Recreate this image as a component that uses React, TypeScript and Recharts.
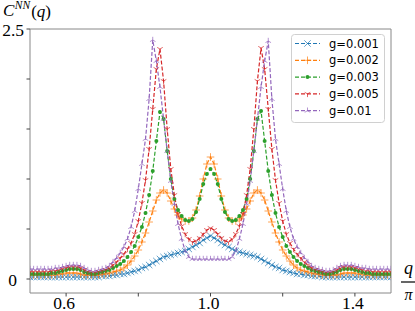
import { LineChart, Line, XAxis, YAxis, ReferenceLine, Legend } from "recharts";

// q / pi sampled on a 0.01 grid from 0.5 to 1.5
const qGrid = Array.from({ length: 101 }, (_, i) => Math.round((0.5 + i * 0.01) * 100) / 100);

const g001 = [
  0.02, 0.02, 0.02, 0.02, 0.02, 0.02, 0.02, 0.02, 0.02, 0.02,
  0.02, 0.02, 0.02, 0.02, 0.02, 0.02, 0.02, 0.02, 0.02, 0.02,
  0.03, 0.03, 0.03, 0.04, 0.04, 0.05, 0.05, 0.06, 0.07, 0.08,
  0.09, 0.11, 0.12, 0.14, 0.16, 0.18, 0.2, 0.22, 0.23, 0.24,
  0.25, 0.26, 0.27, 0.28, 0.3, 0.32, 0.34, 0.36, 0.39, 0.41,
  0.43,
  0.41, 0.39, 0.36, 0.34, 0.32, 0.3, 0.28, 0.27, 0.26, 0.25,
  0.24, 0.23, 0.22, 0.2, 0.18, 0.16, 0.14, 0.12, 0.11, 0.09,
  0.08, 0.07, 0.06, 0.05, 0.05, 0.04, 0.04, 0.03, 0.03, 0.03,
  0.02, 0.02, 0.02, 0.02, 0.02, 0.02, 0.02, 0.02, 0.02, 0.02,
  0.02, 0.02, 0.02, 0.02, 0.02, 0.02, 0.02, 0.02, 0.02, 0.02,
];

const g002 = [
  0.04, 0.04, 0.04, 0.04, 0.04, 0.04, 0.04, 0.04, 0.05, 0.05,
  0.06, 0.06, 0.06, 0.06, 0.05, 0.04, 0.04, 0.04, 0.04, 0.04,
  0.05, 0.05, 0.06, 0.07, 0.08, 0.09, 0.11, 0.14, 0.18, 0.23,
  0.29, 0.37, 0.46, 0.57, 0.68, 0.79, 0.86, 0.89, 0.86, 0.78,
  0.7, 0.64, 0.6, 0.58, 0.58, 0.61, 0.69, 0.83, 1.0, 1.15,
  1.22,
  1.15, 1.0, 0.83, 0.69, 0.61, 0.58, 0.58, 0.6, 0.64, 0.7,
  0.78, 0.86, 0.89, 0.86, 0.79, 0.68, 0.57, 0.46, 0.37, 0.29,
  0.23, 0.18, 0.14, 0.11, 0.09, 0.08, 0.07, 0.06, 0.05, 0.05,
  0.04, 0.04, 0.04, 0.04, 0.04, 0.05, 0.06, 0.06, 0.06, 0.06,
  0.05, 0.05, 0.04, 0.04, 0.04, 0.04, 0.04, 0.04, 0.04, 0.04,
];

const g003 = [
  0.05, 0.05, 0.05, 0.05, 0.05, 0.05, 0.06, 0.06, 0.07, 0.08,
  0.09, 0.1, 0.1, 0.1, 0.09, 0.07, 0.06, 0.05, 0.05, 0.06,
  0.07, 0.08, 0.09, 0.11, 0.13, 0.15, 0.18, 0.22, 0.27, 0.33,
  0.42, 0.52, 0.66, 0.84, 1.08, 1.38, 1.67, 1.6, 1.28, 1.0,
  0.8, 0.69, 0.63, 0.59, 0.58, 0.6, 0.67, 0.8, 0.95, 1.05,
  1.1,
  1.05, 0.95, 0.8, 0.67, 0.6, 0.58, 0.59, 0.63, 0.69, 0.8,
  1.0, 1.28, 1.6, 1.68, 1.38, 1.08, 0.84, 0.66, 0.52, 0.42,
  0.33, 0.27, 0.22, 0.18, 0.15, 0.13, 0.11, 0.09, 0.08, 0.07,
  0.06, 0.05, 0.05, 0.06, 0.07, 0.09, 0.1, 0.1, 0.1, 0.09,
  0.08, 0.07, 0.06, 0.06, 0.05, 0.05, 0.05, 0.05, 0.05, 0.05,
];

const g005 = [
  0.07, 0.07, 0.07, 0.07, 0.07, 0.07, 0.08, 0.08, 0.09, 0.1,
  0.11, 0.12, 0.12, 0.12, 0.11, 0.09, 0.07, 0.06, 0.06, 0.07,
  0.08, 0.09, 0.11, 0.14, 0.17, 0.21, 0.25, 0.3, 0.36, 0.45,
  0.58, 0.76, 0.99, 1.3, 1.7, 2.1, 2.3, 1.98, 1.5, 1.1,
  0.84, 0.65, 0.53, 0.45, 0.4, 0.37, 0.38, 0.41, 0.45, 0.49,
  0.51,
  0.49, 0.45, 0.41, 0.38, 0.37, 0.4, 0.45, 0.53, 0.65, 0.84,
  1.1, 1.5, 1.98, 2.31, 2.1, 1.7, 1.3, 0.99, 0.76, 0.58,
  0.45, 0.36, 0.3, 0.25, 0.21, 0.17, 0.14, 0.11, 0.09, 0.08,
  0.07, 0.06, 0.06, 0.07, 0.09, 0.11, 0.12, 0.12, 0.12, 0.11,
  0.1, 0.09, 0.08, 0.08, 0.07, 0.07, 0.07, 0.07, 0.07, 0.07,
];

const g01 = [
  0.1, 0.1, 0.1, 0.1, 0.1, 0.1, 0.1, 0.11, 0.11, 0.12,
  0.13, 0.14, 0.14, 0.14, 0.13, 0.11, 0.09, 0.08, 0.08, 0.09,
  0.1, 0.11, 0.13, 0.17, 0.21, 0.26, 0.32, 0.4, 0.52, 0.68,
  0.9, 1.15, 1.4, 1.8, 2.39, 2.18, 1.92, 1.6, 1.28, 0.98,
  0.75, 0.55, 0.4, 0.28, 0.22, 0.2, 0.2, 0.2, 0.2, 0.2,
  0.2,
  0.2, 0.2, 0.2, 0.2, 0.2, 0.22, 0.28, 0.4, 0.55, 0.75,
  0.98, 1.28, 1.6, 1.92, 2.18, 2.38, 1.8, 1.4, 1.15, 0.9,
  0.68, 0.52, 0.4, 0.32, 0.26, 0.21, 0.17, 0.13, 0.11, 0.1,
  0.09, 0.08, 0.08, 0.09, 0.11, 0.13, 0.14, 0.14, 0.14, 0.13,
  0.12, 0.11, 0.11, 0.1, 0.1, 0.1, 0.1, 0.1, 0.1, 0.1,
];

const xTicks = [0.6, 0.8, 1.0, 1.2, 1.4];
const xLabels = ["0.6", "", "1.0", "", "1.4"];
const yTicks = [0, 0.5, 1, 1.5, 2, 2.5];
const yLabels = ["0", "", "", "", "", "2.5"];

const series = [
  { key: "g001", name: "g=0.001", color: "#1f77b4", marker: "x" },
  { key: "g002", name: "g=0.002", color: "#ff7f0e", marker: "plus" },
  { key: "g003", name: "g=0.003", color: "#2ca02c", marker: "dot" },
  { key: "g005", name: "g=0.005", color: "#d62728", marker: "triDown" },
  { key: "g01", name: "g=0.01", color: "#9467bd", marker: "triUp" },
];

const data = qGrid.map((q, i) => ({
  q,
  g001: g001[i],
  g002: g002[i],
  g003: g003[i],
  g005: g005[i],
  g01: g01[i],
}));

const serif = "'Liberation Serif', 'DejaVu Serif', serif";

function Marker({ kind, x, y, color }: { kind: string; x: number; y: number; color: string }) {
  const r = 3.2;
  if (kind === "dot") return <circle cx={x} cy={y} r={2} fill={color} />;
  let d = "";
  if (kind === "x") d = `M${x - r},${y - r}L${x + r},${y + r}M${x - r},${y + r}L${x + r},${y - r}`;
  if (kind === "plus") d = `M${x - r - 0.6},${y}L${x + r + 0.6},${y}M${x},${y - r - 0.6}L${x},${y + r + 0.6}`;
  if (kind === "triDown")
    d = `M${x},${y}L${x},${y + r}M${x},${y}L${x - r * 0.87},${y - r * 0.5}M${x},${y}L${x + r * 0.87},${y - r * 0.5}`;
  if (kind === "triUp")
    d = `M${x},${y}L${x},${y - r}M${x},${y}L${x - r * 0.87},${y + r * 0.5}M${x},${y}L${x + r * 0.87},${y + r * 0.5}`;
  return <path d={d} stroke={color} strokeWidth={1} strokeOpacity={0.7} fill="none" />;
}

const dotFor = (kind: string, color: string) => (p: any) => {
  if (p.cx == null || p.cy == null) return <g key={`d-${kind}-${p.index}`} />;
  return (
    <g key={`d-${kind}-${p.index}`}>
      <Marker kind={kind} x={p.cx} y={p.cy} color={color} />
    </g>
  );
};

function XTick(props: any) {
  const { x, y, index } = props;
  const label = xLabels[index];
  if (!label) return <g />;
  return (
    <text x={x - 2} y={y + 12} textAnchor="middle" fontFamily={serif} fontSize={17.5} fill="#000">
      {label}
    </text>
  );
}

function YTick(props: any) {
  const { x, y, index } = props;
  const label = yLabels[index];
  if (!label) return <g />;
  const shift = label === "0" ? 9.5 : 2.5;
  return (
    <text x={x - shift} y={y + 7} textAnchor="end" fontFamily={serif} fontSize={17.5} fill="#000">
      {label}
    </text>
  );
}

function LegendBox() {
  return (
    <svg width={95} height={90} style={{ display: "block" }}>
      <rect x={0.5} y={0.5} width={93} height={88} rx={3} fill="#fff" fillOpacity={0.8} stroke="#d0d0d0" />
      {series.map((s, i) => {
        const cy = 9.5 + i * 16.8;
        return (
          <g key={s.key}>
            <line x1={4} x2={29} y1={cy} y2={cy} stroke={s.color} strokeWidth={1.2} strokeDasharray="4 2" />
            <Marker kind={s.marker} x={16.5} y={cy} color={s.color} />
            <text x={38} y={cy + 4} fontFamily="'DejaVu Sans', sans-serif" fontSize={11.5} fill="#000">
              {s.name}
            </text>
          </g>
        );
      })}
    </svg>
  );
}

export default function App() {
  return (
    <div style={{ position: "absolute", left: 0, top: 0, width: 415, height: 311, background: "#fff" }}>
      <LineChart width={415} height={311} data={data} margin={{ top: 29, right: 24, bottom: 0, left: 0 }}>
        <XAxis
          dataKey="q"
          type="number"
          domain={[0.5, 1.5]}
          allowDataOverflow
          ticks={xTicks}
          interval={0}
          height={18}
          tickSize={3.5}
          tickMargin={0}
          stroke="#888"
          tickLine={{ stroke: "#444" }}
          tick={<XTick />}
        />
        <YAxis
          type="number"
          domain={[-0.14, 2.5]}
          allowDataOverflow
          ticks={yTicks}
          interval={0}
          width={30}
          tickSize={3.5}
          tickMargin={0}
          stroke="#888"
          tickLine={{ stroke: "#444" }}
          tick={<YTick />}
        />
        <ReferenceLine y={2.5} stroke="#888" />
        <ReferenceLine x={1.5} stroke="#888" />
        {series.map((s) => (
          <Line
            key={s.key}
            type="linear"
            dataKey={s.key}
            name={s.name}
            stroke={s.color}
            strokeWidth={1.2}
            strokeDasharray="4 2"
            dot={dotFor(s.marker, s.color)}
            activeDot={false}
            isAnimationActive={false}
          />
        ))}
        <Legend
          layout="vertical"
          align="center"
          verticalAlign="middle"
          wrapperStyle={{ left: 291, top: 34, width: 95, height: 90 }}
          content={() => <LegendBox />}
        />
      </LineChart>
      <svg width={415} height={311} style={{ position: "absolute", left: 0, top: 0, pointerEvents: "none" }}>
        <text x={3} y={16} fontFamily={serif} fontStyle="italic" fontSize={17} fill="#000">
          C
          <tspan dx={0.5} dy={-7} fontSize={11.5}>
            NN
          </tspan>
          <tspan dx={1} dy={8} fontStyle="normal">
            (
          </tspan>
          <tspan>q</tspan>
          <tspan fontStyle="normal">)</tspan>
        </text>
        <text x={408.5} y={274} textAnchor="middle" fontFamily={serif} fontStyle="italic" fontSize={18} fill="#000">
          q
        </text>
        <line x1={401} x2={415} y1={282} y2={282} stroke="#000" strokeWidth={1.2} />
        <text x={408.5} y={300} textAnchor="middle" fontFamily={serif} fontStyle="italic" fontSize={16} fill="#000">
          π
        </text>
      </svg>
    </div>
  );
}
